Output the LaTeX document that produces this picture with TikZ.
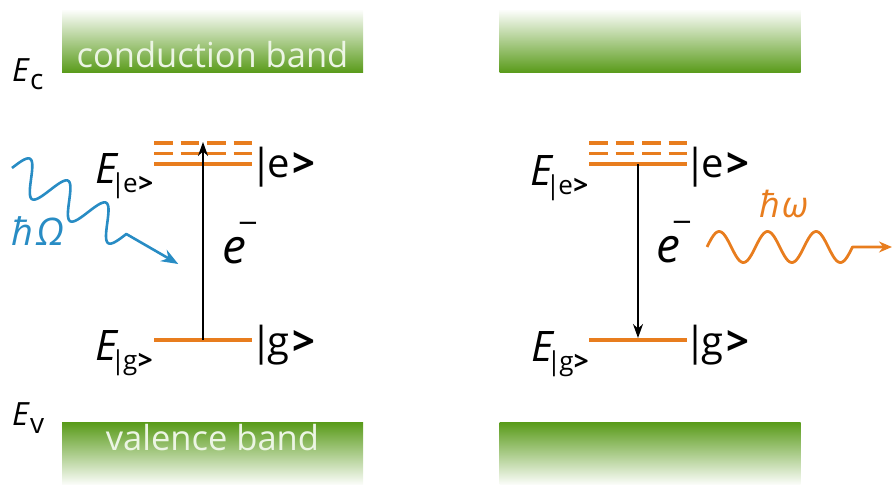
\documentclass[tikz,border=0pt]{standalone}
\usepackage{fontspec}
\setmainfont{Open Sans}
\newfontfamily\symfont{DejaVu Sans}
\usetikzlibrary{arrows.meta}

\definecolor{bandgreen}{RGB}{88,154,24}
\definecolor{levelorange}{RGB}{232,125,30}
\definecolor{photonblue}{RGB}{40,140,196}
\definecolor{bandtext}{RGB}{236,245,228}

% energy label E with a subscript
\newcommand\EnergyLab[4]{{\fontsize{#1}{#1}\selectfont\itshape E}\raisebox{#3}{\fontsize{#2}{#2}\selectfont #4}}
% compact |x> used as subscript
\newcommand\SubKet[1]{\kern-6pt|\kern-2pt#1\kern0.5pt\textbf{>}}
% state label |x>
\newcommand\KetLab[2]{{\fontsize{#1}{#1}\selectfont|\kern-5pt#2\kern3pt\textbf{>}}}
% electron e^-
\newcommand\Electron{{\fontsize{48}{48}\selectfont\itshape e}\kern-9pt\raisebox{32pt}{\fontsize{26}{26}\symfont −}}

\begin{document}
\begin{tikzpicture}[x=1pt,y=-1pt,
  band/.style={draw=none, inner sep=0pt, minimum width=301pt, minimum height=64pt},
  cband/.style={band, top color=white, middle color=bandgreen!40!white, bottom color=bandgreen},
  vband/.style={band, top color=bandgreen, middle color=bandgreen!40!white, bottom color=white},
  bandlab/.style={anchor=base, inner sep=0pt, text=bandtext, font=\fontsize{34.5}{34.5}\selectfont},
  lab/.style={anchor=base west, inner sep=0pt},
  level/.style={draw=levelorange, line width=3.6pt},
  sublevel/.style={level, dash pattern=on 18.5pt off 8pt},
  transition/.style={draw=black, line width=1.9pt, -{Stealth[length=14pt,width=10pt]}},
  photonin/.style={draw=photonblue, line width=2.6pt, line join=round, -{Stealth[length=17pt,width=13pt]}},
  photonout/.style={draw=levelorange, line width=2.8pt, line join=round, -{Stealth[length=13pt,width=11pt]}}
]
\useasboundingbox (0,0) rectangle (893,484);

% bands
\node[cband] (cbL) at (212.5,41) {};
\node[cband] (cbR) at (650,41) {};
\node[vband] (vbL) at (212.5,454) {};
\node[vband] (vbR) at (650,454) {};
\node[bandlab] (cbText) at (212.5,68) {conduction band};
\node[bandlab] (vbText) at (212.5,450) {valence band};

% band edge labels
\node[lab] (Ec) at (12,82) {\EnergyLab{32}{28}{-8pt}{\kern1.5pt c}};
\node[lab] (Ev) at (12,425) {\EnergyLab{32}{28}{-8pt}{\kern1.5pt v}};

% ---- absorption (left) ----
\draw[sublevel] (154,143) -- (252,143);
\draw[sublevel] (154,153.5) -- (252,153.5);
\draw[level] (154,164) -- (252,164);
\draw[level] (154,340) -- (252,340);
\coordinate (gL) at (203,340);
\coordinate (eL) at (203,142);
\draw[transition] (gL) -- (eL);

\node[lab] (EeL) at (95,183) {\EnergyLab{42}{26}{-9pt}{\SubKet{e}}};
\node[lab] (EgL) at (95,360) {\EnergyLab{42}{26}{-9pt}{\SubKet{g}}};
\node[lab] (ketEL) at (250,177) {\KetLab{40}{e}};
\node[lab] (ketGL) at (250,355) {\KetLab{40}{g}};
\node[lab] (elecL) at (222,263) {\Electron};

% incoming photon
\coordinate (inStart) at (12,168);
\begin{scope}[shift={(inStart)}, rotate=-30]
  \coordinate (inTip) at (192,0);
  \draw[photonin] plot[domain=0:132, samples=140, smooth] (\x,{-17*sin(\x/44*360)}) -- (inTip);
\end{scope}
\node[lab, text=photonblue] (hOmega) at (11,245) {\fontsize{38}{38}\selectfont\itshape ħ\kern3pt Ω};

% ---- emission (right) ----
\draw[sublevel] (589,143) -- (687,143);
\draw[sublevel] (589,153.5) -- (687,153.5);
\draw[level] (589,164) -- (687,164);
\draw[level] (589,340) -- (687,340);
\coordinate (eR) at (638,164);
\coordinate (gR) at (638,338);
\draw[transition] (eR) -- (gR);

\node[lab] (EeR) at (530,185) {\EnergyLab{42}{26}{-9pt}{\SubKet{e}}};
\node[lab] (EgR) at (531,361) {\EnergyLab{42}{26}{-9pt}{\SubKet{g}}};
\node[lab] (ketER) at (684,177) {\KetLab{40}{e}};
\node[lab] (ketGR) at (684,355) {\KetLab{40}{g}};
\node[lab] (elecR) at (656,262) {\Electron};

% emitted photon
\coordinate (outStart) at (707,247);
\begin{scope}[shift={(outStart)}]
  \coordinate (outTip) at (185,0);
  \draw[photonout] plot[domain=0:145.5, samples=120, smooth] (\x,{-15.5*sin(\x/48.5*360)}) -- (outTip);
\end{scope}
\node[lab, text=levelorange] (hOmegaOut) at (759,217) {\fontsize{36}{36}\selectfont\itshape ħ\kern2pt ω};

\end{tikzpicture}
\end{document}
